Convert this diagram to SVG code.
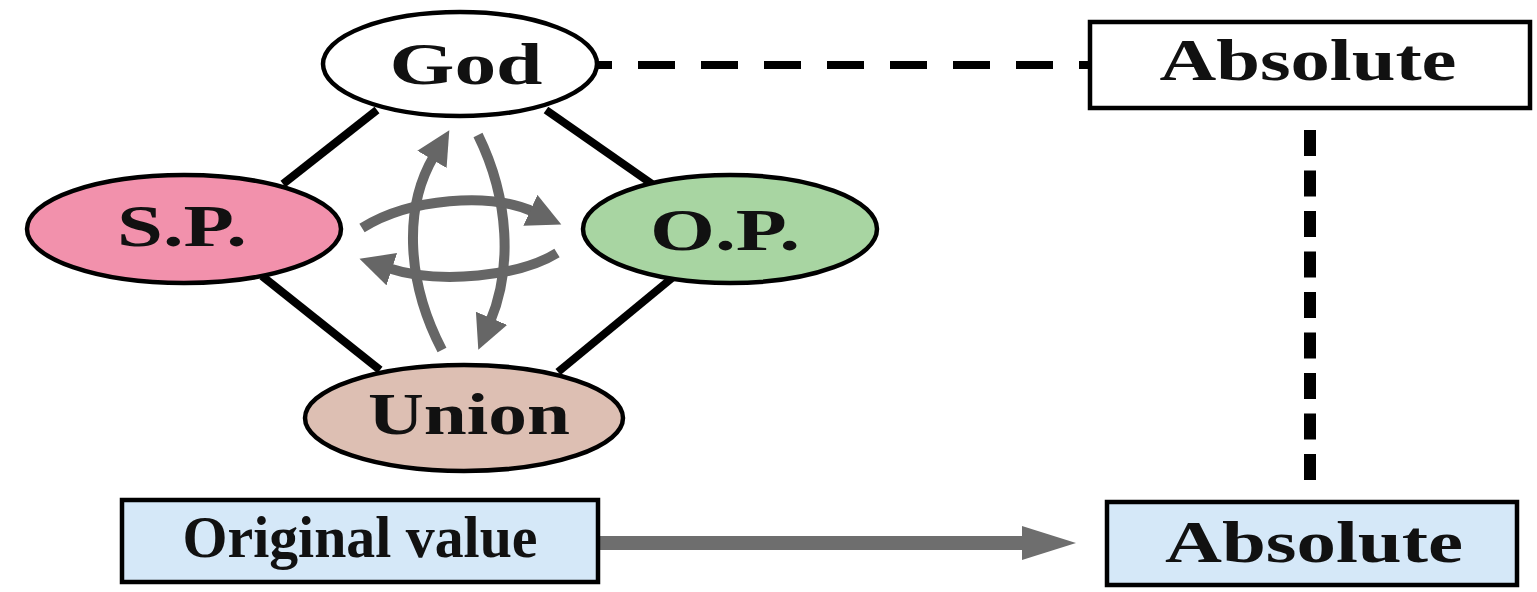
<svg xmlns="http://www.w3.org/2000/svg" width="1537" height="592" viewBox="0 0 1537 592">
<defs>
<style>
.lbl{font-family:"Liberation Serif","Times New Roman",serif;font-weight:bold;font-size:60px;fill:#111;text-anchor:middle}
.node{stroke:#000;stroke-width:4.5}
.edge{stroke:#000;stroke-width:8;fill:none}
.cyc{stroke:#666;stroke-width:10;fill:none;marker-end:url(#ah)}
</style>
<marker id="ah" markerUnits="userSpaceOnUse" markerWidth="44" markerHeight="44" refX="4" refY="17" orient="auto">
<path d="M0,0 L34,17 L0,34 z" fill="#666"/>
</marker>
</defs>
<rect width="1537" height="592" fill="#fff"/>
<g id="connectors">
<line class="edge" x1="377" y1="110" x2="283" y2="184"/>
<line class="edge" x1="546" y1="110" x2="652" y2="184"/>
<line class="edge" x1="262" y1="276" x2="380" y2="370"/>
<line class="edge" x1="672" y1="278" x2="558" y2="372"/>
<line x1="597" y1="65" x2="1090" y2="65" stroke="#000" stroke-width="8" stroke-dasharray="37 26" stroke-dashoffset="22"/>
<line x1="1310" y1="130" x2="1310" y2="482" stroke="#000" stroke-width="12" stroke-dasharray="26 14.5"/>
<line x1="598" y1="543" x2="1028" y2="543" stroke="#6e6e6e" stroke-width="14"/>
<polygon points="1022,526 1076,543 1022,560" fill="#6e6e6e"/>
<path class="cyc" d="M442 350 C408 285 402 210 434 156"/>
<path class="cyc" d="M478 135 C510 200 512 270 490 322"/>
<path class="cyc" d="M362 228 C410 198 490 192 534 212"/>
<path class="cyc" d="M557 253 C520 276 440 285 388 268"/>
</g>
<g id="god">
<ellipse class="node" cx="460" cy="64" rx="137" ry="52" fill="#fff"/>
<text class="lbl" x="466" y="84" textLength="153" lengthAdjust="spacingAndGlyphs">God</text>
</g>
<g id="sp">
<ellipse class="node" cx="184" cy="229" rx="157" ry="54" fill="#F291AC"/>
<text class="lbl" x="182" y="246" textLength="130" lengthAdjust="spacingAndGlyphs">S.P.</text>
</g>
<g id="op">
<ellipse class="node" cx="730" cy="229" rx="147" ry="54" fill="#A8D5A2"/>
<text class="lbl" x="725" y="250" textLength="150" lengthAdjust="spacingAndGlyphs">O.P.</text>
</g>
<g id="union">
<ellipse class="node" cx="464" cy="418" rx="159" ry="53" fill="#DDBFB3"/>
<text class="lbl" x="469" y="434" textLength="202" lengthAdjust="spacingAndGlyphs">Union</text>
</g>
<g id="absolute-top">
<rect class="node" x="1090" y="22" width="440" height="86" fill="#fff"/>
<text class="lbl" x="1308" y="80" textLength="297" lengthAdjust="spacingAndGlyphs">Absolute</text>
</g>
<g id="original-value">
<rect class="node" x="122" y="500" width="476" height="82" fill="#D5E8F8"/>
<text class="lbl" x="360" y="557" textLength="355" lengthAdjust="spacingAndGlyphs">Original value</text>
</g>
<g id="absolute-bottom">
<rect class="node" x="1107" y="502" width="410" height="83" fill="#D5E8F8"/>
<text class="lbl" x="1314" y="562" textLength="298" lengthAdjust="spacingAndGlyphs">Absolute</text>
</g>
</svg>
